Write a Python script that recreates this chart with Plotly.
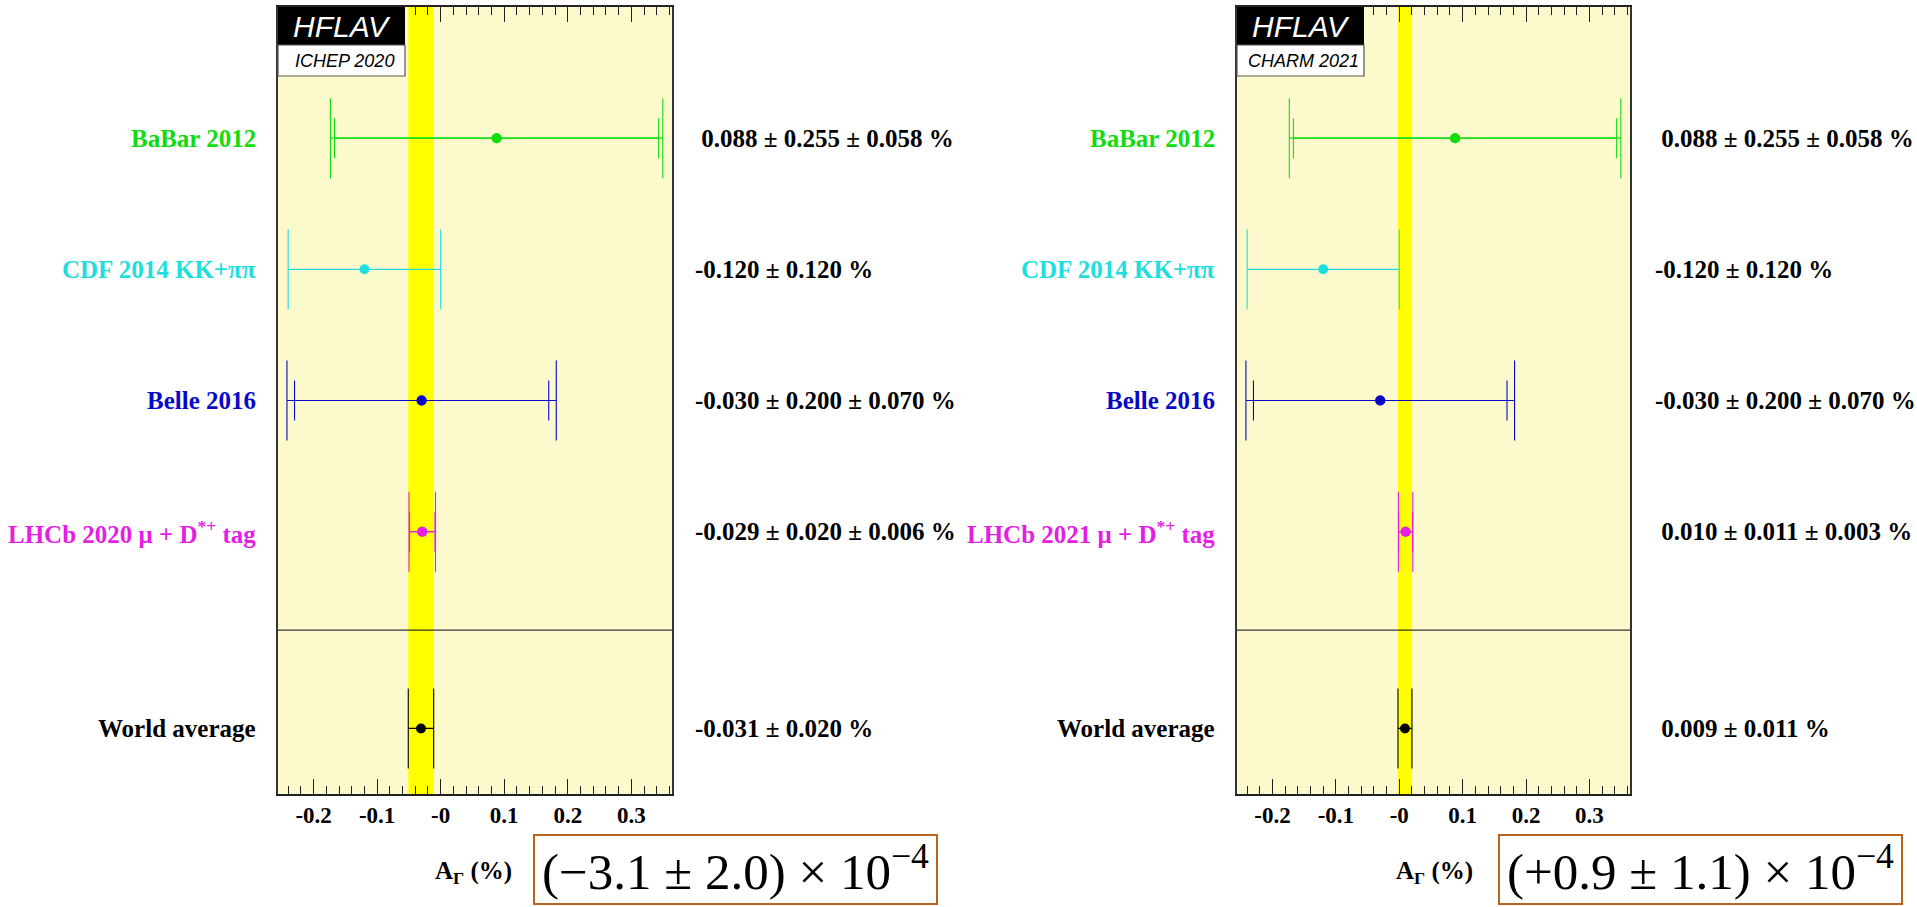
import plotly.graph_objects as go

W, H = 1917, 907

# ---------------- data ----------------
labels_left = ["BaBar 2012", "CDF 2014 KK+ππ", "Belle 2016", "LHCb 2020 μ + D<sup>*+</sup> tag"]
values_left = [0.088, -0.120, -0.030, -0.029]
stat_left = [0.255, 0.120, 0.200, 0.020]
syst_left = [0.058, None, 0.070, 0.006]
wa_left = -0.031
wa_err_left = 0.020
tag_left = "ICHEP 2020"
result_left = "(−3.1 ± 2.0) × 10"

labels_right = ["BaBar 2012", "CDF 2014 KK+ππ", "Belle 2016", "LHCb 2021 μ + D<sup>*+</sup> tag"]
values_right = [0.088, -0.120, -0.030, 0.010]
stat_right = [0.255, 0.120, 0.200, 0.011]
syst_right = [0.058, None, 0.070, 0.003]
wa_right = 0.009
wa_err_right = 0.011
tag_right = "CHARM 2021"
result_right = "(+0.9 ± 1.1) × 10"

colors = ["#10dc10", "#20dede", "#0808c8", "#e41ee4"]
rows = [5, 4, 3, 2]
wa_row = 0.5
sep_row = 1.25
tick_vals = [-0.2, -0.1, 0.0, 0.1, 0.2, 0.3]
tick_text = ["-0.2", "-0.1", "-0", "0.1", "0.2", "0.3"]
x_range = [-0.256, 0.364]

BG = "#fcfacd"
SERIF = "Liberation Serif"
SANS = "Liberation Sans"


def px(x):
    return x / W


def py(y):
    return 1 - y / H


panels = [
    dict(labels=labels_left, values=values_left, stat=stat_left, syst=syst_left,
         wa=wa_left, wa_err=wa_err_left, tag=tag_left, result=result_left,
         x0=278, x1=672, label_x=258, val_x=693, title_x=433, box=(534, 937)),
    dict(labels=labels_right, values=values_right, stat=stat_right, syst=syst_right,
         wa=wa_right, wa_err=wa_err_right, tag=tag_right, result=result_right,
         x0=1237, x1=1630, label_x=1217, val_x=1653, title_x=1394, box=(1499, 1902)),
]

PLOT_TOP, PLOT_BOT = 7, 794

fig = go.Figure()
shapes = []
annotations = []


def fmt(v):
    s = f"{v:.3f}"
    return s if v < 0 else "\u00a0" + s


for i, p in enumerate(panels):
    xa = "x" if i == 0 else "x2"
    ya = "y" if i == 0 else "y2"
    xd = "x domain" if i == 0 else "x2 domain"
    yd = "y domain" if i == 0 else "y2 domain"

    # world average band
    shapes.append(dict(type="rect", xref=xa, yref=yd, x0=p["wa"] - p["wa_err"], x1=p["wa"] + p["wa_err"],
                       y0=0, y1=1, fillcolor="#ffff00", line=dict(width=0), layer="below"))
    # separator line
    shapes.append(dict(type="line", xref=xd, yref=ya, x0=0, x1=1, y0=sep_row, y1=sep_row,
                       line=dict(color="#333333", width=1.2), layer="above"))

    for lab, v, st, sy, c, r in zip(p["labels"], p["values"], p["stat"], p["syst"], colors, rows):
        tot = (st ** 2 + (sy or 0) ** 2) ** 0.5
        if sy is not None:
            fig.add_trace(go.Scatter(x=[v], y=[r], xaxis=xa, yaxis=ya, mode="markers",
                                     marker=dict(size=10, color=c),
                                     error_x=dict(type="data", array=[st], color=c, thickness=1.1, width=20),
                                     showlegend=False, hoverinfo="skip"))
        fig.add_trace(go.Scatter(x=[v], y=[r], xaxis=xa, yaxis=ya, mode="markers",
                                 marker=dict(size=10, color=c),
                                 error_x=dict(type="data", array=[tot], color=c, thickness=1.1, width=40),
                                 showlegend=False, hoverinfo="skip"))
        annotations.append(dict(x=px(p["label_x"]), xref="paper", y=r, yref=ya, text=lab,
                                xanchor="right", yanchor="middle", showarrow=False,
                                font=dict(family=SERIF, size=25, color=c, weight="bold")))
        if sy is not None:
            vt = f"{fmt(v)} ± {st:.3f} ± {sy:.3f} %"
        else:
            vt = f"{fmt(v)} ± {st:.3f} %"
        annotations.append(dict(x=px(p["val_x"]), xref="paper", y=r, yref=ya, text=vt,
                                xanchor="left", yanchor="middle", showarrow=False,
                                font=dict(family=SERIF, size=25, color="black", weight="bold")))

    # world average
    fig.add_trace(go.Scatter(x=[p["wa"]], y=[wa_row], xaxis=xa, yaxis=ya, mode="markers",
                             marker=dict(size=10, color="black"),
                             error_x=dict(type="data", array=[p["wa_err"]], color="black", thickness=1.1, width=40),
                             showlegend=False, hoverinfo="skip"))
    annotations.append(dict(x=px(p["label_x"]), xref="paper", y=wa_row, yref=ya, text="World average",
                            xanchor="right", yanchor="middle", showarrow=False,
                            font=dict(family=SERIF, size=25, color="black", weight="bold")))
    annotations.append(dict(x=px(p["val_x"]), xref="paper", y=wa_row, yref=ya,
                            text=f"{fmt(p['wa'])} ± {p['wa_err']:.3f} %",
                            xanchor="left", yanchor="middle", showarrow=False,
                            font=dict(family=SERIF, size=25, color="black", weight="bold")))

    # HFLAV logo
    bx0, bx1 = p["x0"], p["x0"] + 127
    shapes.append(dict(type="rect", xref="paper", yref="paper", x0=px(bx0), x1=px(bx1),
                       y0=py(45), y1=py(PLOT_TOP), fillcolor="black", line=dict(width=0), layer="above"))
    shapes.append(dict(type="rect", xref="paper", yref="paper", x0=px(bx0), x1=px(bx1),
                       y0=py(76), y1=py(45), fillcolor="white", line=dict(color="#555555", width=1.2),
                       layer="above"))
    annotations.append(dict(x=px((bx0 + bx1) / 2), y=py(26), xref="paper", yref="paper", text="<i>HFLAV</i>",
                            showarrow=False, xanchor="center", yanchor="middle",
                            font=dict(family=SANS, size=30, color="white")))
    annotations.append(dict(x=px((bx0 + bx1) / 2 + 3), y=py(61), xref="paper", yref="paper",
                            text=f"<i>{p['tag']}</i>",
                            showarrow=False, xanchor="center", yanchor="middle",
                            font=dict(family=SANS, size=18, color="black")))

    # axis title
    annotations.append(dict(x=px(p["title_x"]), y=py(872), xref="paper", yref="paper",
                            text="A<sub>Γ</sub> (%)", showarrow=False, xanchor="left", yanchor="middle",
                            font=dict(family=SERIF, size=25, color="black", weight="bold")))

    # result box
    lx0, lx1 = p["box"]
    shapes.append(dict(type="rect", xref="paper", yref="paper", x0=px(lx0), x1=px(lx1),
                       y0=py(904), y1=py(835), fillcolor="rgba(0,0,0,0)",
                       line=dict(color="#b8641c", width=2), layer="above"))
    annotations.append(dict(x=px((lx0 + lx1) / 2), y=py(868), xref="paper", yref="paper",
                            text=p["result"] + "<sup>−4</sup>", showarrow=False,
                            xanchor="center", yanchor="middle",
                            font=dict(family=SERIF, size=51, color="black")))

axis_common = dict(range=x_range, tickvals=tick_vals, ticktext=tick_text, ticks="inside", ticklen=15,
                   tickwidth=1, tickcolor="#222222", showline=True, linecolor="#222222", linewidth=1.5,
                   mirror="allticks", showgrid=False, zeroline=False,
                   minor=dict(ticks="inside", ticklen=8, dtick=0.02, tick0=0, tickcolor="#222222",
                              tickwidth=1, showgrid=False),
                   tickfont=dict(family=SERIF, size=23, color="black", weight="bold"))
yaxis_common = dict(range=[0, 6], showticklabels=False, ticks="", showline=True, mirror=True,
                    linecolor="#333333", linewidth=1.5, showgrid=False, zeroline=False)

fig.update_layout(
    width=W, height=H, margin=dict(l=0, r=0, t=0, b=0),
    paper_bgcolor="white", plot_bgcolor=BG,
    xaxis=dict(domain=[px(278), px(672)], anchor="y", **axis_common),
    yaxis=dict(domain=[py(PLOT_BOT), py(PLOT_TOP)], anchor="x", **yaxis_common),
    xaxis2=dict(domain=[px(1237), px(1630)], anchor="y2", **axis_common),
    yaxis2=dict(domain=[py(PLOT_BOT), py(PLOT_TOP)], anchor="x2", **yaxis_common),
    shapes=shapes, annotations=annotations, showlegend=False,
)

fig.write_html("out.html")
